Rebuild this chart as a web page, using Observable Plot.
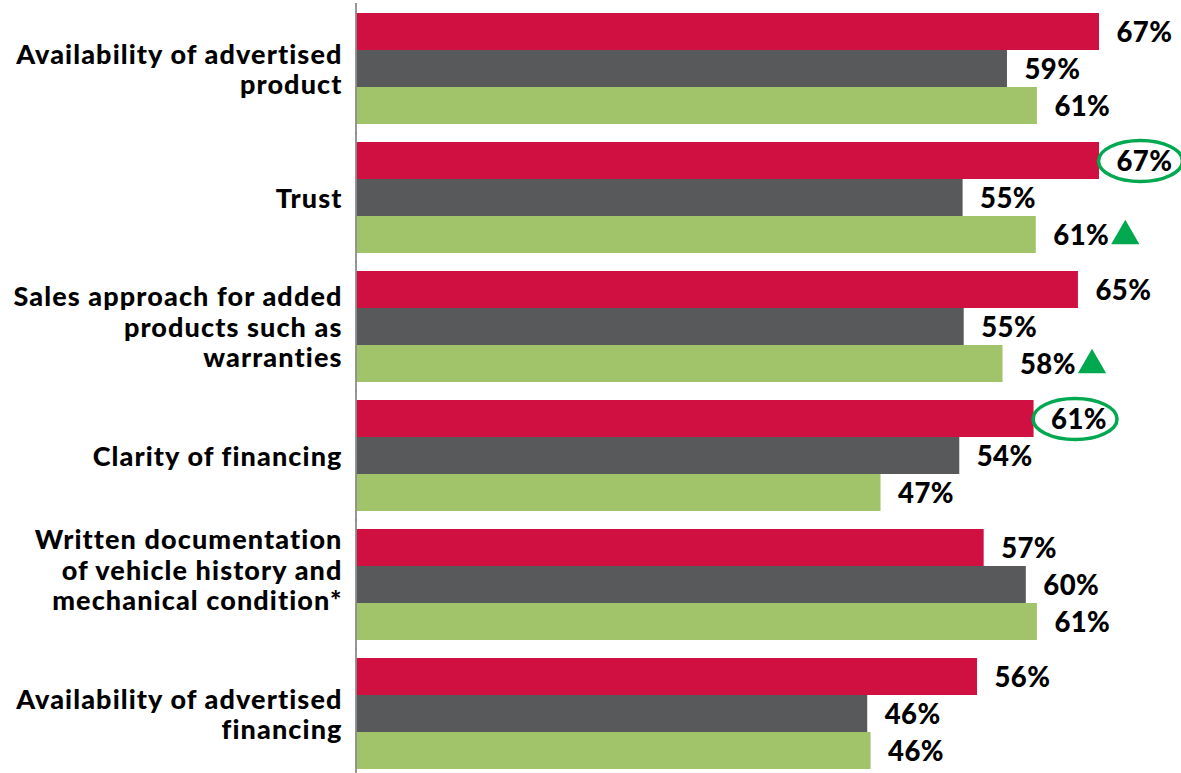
<!DOCTYPE html>
<html>
<head>
<meta charset="utf-8">
<script src="https://cdn.jsdelivr.net/npm/d3@7"></script>
<script src="https://cdn.jsdelivr.net/npm/@observablehq/plot@0.6"></script>
<style>
  html, body { margin: 0; padding: 0; background: #fff; }
  #chart { width: 1181px; height: 773px; }
  #chart g[text-anchor="end"] { letter-spacing: 1.1px; }
  #chart g[text-anchor="start"] { letter-spacing: 0.4px; }
</style>
</head>
<body>
<div id="chart"></div>
<script>
// Categories (line breaks as in the original labels)
const categories = [
  "Availability of advertised\nproduct",
  "Trust",
  "Sales approach for added\nproducts such as\nwarranties",
  "Clarity of financing",
  "Written documentation\nof vehicle history and\nmechanical condition*\n",
  "Availability of advertised\nfinancing"
];
const seriesNames = ["Series 1", "Series 2", "Series 3"];
const series1 = [67.0, 67.0, 65.1, 61.1, 56.6, 56.0];
const series2 = [58.7, 54.7, 54.8, 54.4, 60.4, 46.1];
const series3 = [61.4, 61.3, 58.3, 47.3, 61.4, 46.4];
// annotations
const circled = [{category: categories[1], series: "Series 1"}, {category: categories[3], series: "Series 1"}];
const upArrows = [{category: categories[1], series: "Series 3"}, {category: categories[2], series: "Series 3"}];

const colors = ["#CF1040", "#58595B", "#A1C46A"];
const annoGreen = "#00A850";

const data = [];
[series1, series2, series3].forEach((vals, si) => {
  vals.forEach((v, ci) => data.push({category: categories[ci], series: seriesNames[si], value: v}));
});
const lookup = (a) => data.find(d => d.category === a.category && d.series === a.series);
const circledData = circled.map(lookup);
const upData = upArrows.map(lookup);

const RX = 42, RY = 20.5, K = 0.5523;
const ellipseSymbol = {
  draw(ctx) {
    ctx.moveTo(RX, 0);
    ctx.bezierCurveTo(RX, K * RY, K * RX, RY, 0, RY);
    ctx.bezierCurveTo(-K * RX, RY, -RX, K * RY, -RX, 0);
    ctx.bezierCurveTo(-RX, -K * RY, -K * RX, -RY, 0, -RY);
    ctx.bezierCurveTo(K * RX, -RY, RX, -K * RY, RX, 0);
    ctx.closePath();
  }
};

const chart = Plot.plot({
  width: 1181,
  height: 773,
  marginLeft: 356,
  marginRight: 82,
  marginTop: 12,
  marginBottom: 3,
  style: {fontFamily: "Lato, sans-serif", fontWeight: "900", background: "#fff"},
  x: {domain: [0, 67], axis: null},
  y: {domain: seriesNames, padding: 0, axis: null},
  fy: {domain: categories, paddingInner: 0.142, paddingOuter: 0, axis: null},
  color: {domain: seriesNames, range: colors},
  marks: [
    Plot.barX(data, {x: "value", y: "series", fy: "category", fill: "series"}),
    Plot.ruleX(categories, {x: 0, fy: d => d, stroke: "#8C8C8C", strokeWidth: 1.8, insetTop: -10, insetBottom: -10, dx: -0.5}),
    Plot.text(categories, {fy: d => d, text: d => d, frameAnchor: "left", dx: -14, textAnchor: "end", lineAnchor: "middle", fontSize: 27, lineHeight: 1.12, fill: "#000"}),
    Plot.text(data, {x: "value", y: "series", fy: "category", text: d => Math.round(d.value) + "%", dx: 17, dy: 1, textAnchor: "start", fontSize: 27.5, fill: "#000"}),
    Plot.dot(circledData, {x: "value", y: "series", fy: "category", dx: 41, symbol: ellipseSymbol, stroke: annoGreen, strokeWidth: 3.5, fill: "none"}),
    Plot.dot(upData, {x: "value", y: "series", fy: "category", dx: 89, dy: 1, symbol: "triangle", r: 10.5, fill: annoGreen, stroke: "none"})
  ]
});
document.getElementById("chart").appendChild(chart);
</script>
</body>
</html>
